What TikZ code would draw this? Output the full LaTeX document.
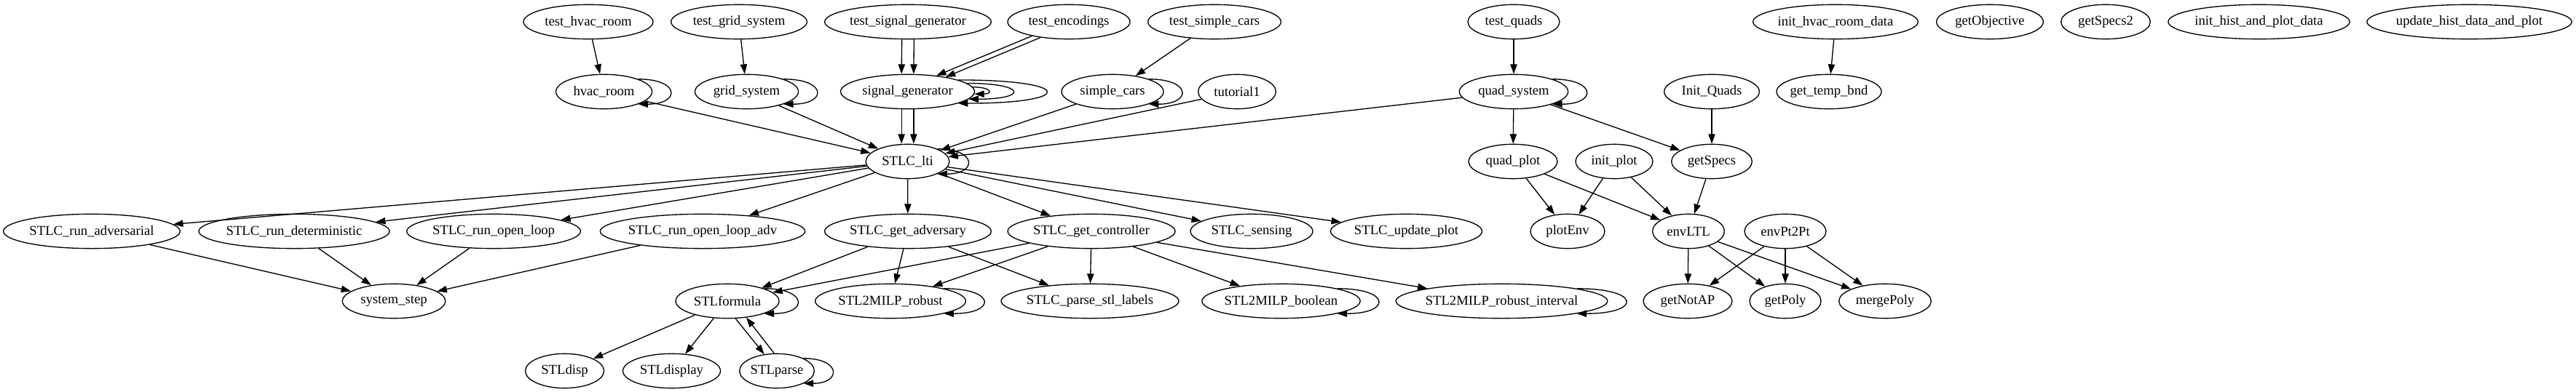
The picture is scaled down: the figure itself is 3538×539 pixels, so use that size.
\documentclass[tikz,border=0pt]{standalone}
\usepackage{fontspec}
\setmainfont{Liberation Serif}
\usetikzlibrary{arrows.meta,shapes.geometric}

\begin{document}
\begin{tikzpicture}[
 x=0.75pt,y=-0.75pt,
 func/.style={draw,ellipse,line width=1pt,inner xsep=-20pt,inner ysep=0pt,minimum height=35.5pt,font=\fontsize{14}{16}\selectfont},
 arrow/.style={-{Triangle[length=10pt,width=7pt]},line width=1pt},
 selfloop/.style={to path={.. controls +(#1,0) and +(#1,0) .. (\tikztotarget)}}]
\useasboundingbox (0,0) rectangle (3538,539);
\node[func,minimum width=133.5pt] (thr) at (808,30) {test\_hvac\_room};
\node[func,minimum width=140pt] (tgs) at (1015,30) {test\_grid\_system};
\node[func,minimum width=171.5pt] (tsg) at (1247,30) {test\_signal\_generator};
\node[func,minimum width=126pt] (tenc) at (1468,30) {test\_encodings};
\node[func,minimum width=137pt] (tsc) at (1668,30) {test\_simple\_cars};
\node[func,minimum width=94.5pt] (tq) at (2079,30) {test\_quads};
\node[func,minimum width=170pt] (ihrd) at (2521,30) {init\_hvac\_room\_data};
\node[func,minimum width=110pt] (gobj) at (2733,30) {getObjective};
\node[func,minimum width=92pt] (gs2) at (2892,30) {getSpecs2};
\node[func,minimum width=187pt] (ihpd) at (3102.5,30) {init\_hist\_and\_plot\_data};
\node[func,minimum width=211pt] (uhdp) at (3391.5,30) {update\_hist\_data\_and\_plot};
\node[func,minimum width=99pt] (hr) at (829.5,126) {hvac\_room};
\node[func,minimum width=106.5pt] (gsys) at (1025.5,126) {grid\_system};
\node[func,minimum width=138pt] (sg) at (1246.5,126) {signal\_generator};
\node[func,minimum width=105pt] (sc) at (1528,126) {simple\_cars};
\node[func,minimum width=80pt] (tut) at (1699,126) {tutorial1};
\node[func,minimum width=112pt] (qs) at (2079,126) {quad\_system};
\node[func,minimum width=98pt] (iq) at (2351,126) {Init\_Quads};
\node[func,minimum width=108pt] (gtb) at (2512,126) {get\_temp\_bnd};
\node[func,minimum width=86pt] (lti) at (1246.5,222) {STLC\_lti};
\node[func,minimum width=91.5pt] (qp) at (2078,222) {quad\_plot};
\node[func,minimum width=79.5pt] (ip) at (2217,222) {init\_plot};
\node[func,minimum width=83pt] (gsp) at (2351,222) {getSpecs};
\node[func,minimum width=182pt] (rad) at (126,318) {STLC\_run\_adversarial};
\node[func,minimum width=196.5pt] (rdet) at (404,318) {STLC\_run\_deterministic};
\node[func,minimum width=179pt] (rol) at (678,318) {STLC\_run\_open\_loop};
\node[func,minimum width=211pt] (rola) at (965,318) {STLC\_run\_open\_loop\_adv};
\node[func,minimum width=171.5pt] (gadv) at (1247,318) {STLC\_get\_adversary};
\node[func,minimum width=172.5pt] (gctl) at (1499,318) {STLC\_get\_controller};
\node[func,minimum width=126pt] (sens) at (1719,318) {STLC\_sensing};
\node[func,minimum width=156pt] (upd) at (1931.5,318) {STLC\_update\_plot};
\node[func,minimum width=76.5pt] (penv) at (2153,318) {plotEnv};
\node[func,minimum width=74pt] (eltl) at (2319,318) {envLTL};
\node[func,minimum width=84pt] (ep2p) at (2452,318) {envPt2Pt};
\node[func,minimum width=106pt] (sstep) at (541,414) {system\_step};
\node[func,minimum width=106.5pt] (stlf) at (999,414) {STLformula};
\node[func,minimum width=155pt] (mrob) at (1223,414) {STL2MILP\_robust};
\node[func,minimum width=183pt] (psl) at (1497,414) {STLC\_parse\_stl\_labels};
\node[func,minimum width=163pt] (mbool) at (1759.5,414) {STL2MILP\_boolean};
\node[func,minimum width=218pt] (mri) at (2062.5,414) {STL2MILP\_robust\_interval};
\node[func,minimum width=91.5pt] (gnap) at (2318,414) {getNotAP};
\node[func,minimum width=73.5pt] (gpoly) at (2452,414) {getPoly};
\node[func,minimum width=95pt] (mpoly) at (2589,414) {mergePoly};
\node[func,minimum width=81pt] (sdisp) at (775.5,510) {STLdisp};
\node[func,minimum width=100.5pt] (sdispl) at (922.5,510) {STLdisplay};
\node[func,minimum width=77pt] (sparse) at (1067,510) {STLparse};
\draw[arrow] (thr) -- (hr);
\draw[arrow] (tgs) -- (gsys);
\draw[arrow] ([xshift=-6.25pt]tsg.south) -- ([xshift=-6.25pt]sg.north);
\draw[arrow] ([xshift=6.25pt]tsg.south) -- ([xshift=6.25pt]sg.north);
\draw[arrow] (tenc.-159) -- (sg.29);
\draw[arrow] (tenc.-151) -- (sg.21);
\draw[arrow] (tsc) -- (sc);
\draw[arrow] (tq) -- (qs);
\draw[arrow] (ihrd) -- (gtb);
\draw[arrow] (hr.north east) to[selfloop=58] (hr.south east);
\draw[arrow] (gsys.north east) to[selfloop=60] (gsys.south east);
\draw[arrow] (sg.13) to[selfloop=161] (sg.-13);
\draw[arrow] (sg.8) to[selfloop=82] (sg.-7);
\draw[arrow] (sg.4) to[selfloop=26] (sg.-2);
\draw[arrow] (sc.north east) to[selfloop=59] (sc.south east);
\draw[arrow] (qs.north east) to[selfloop=61] (qs.south east);
\draw[arrow] (lti.north east) to[selfloop=55] (lti.south east);
\draw[arrow] (hr) -- (lti);
\draw[arrow] (gsys) -- (lti);
\draw[arrow] ([xshift=-6.25pt]sg.south) -- ([xshift=-6.25pt]lti.north);
\draw[arrow] ([xshift=6.25pt]sg.south) -- ([xshift=6.25pt]lti.north);
\draw[arrow] (sc) -- (lti);
\draw[arrow] (tut) -- (lti);
\draw[arrow] (qs) -- (lti);
\draw[arrow] (qs) -- (qp);
\draw[arrow] (qs) -- (gsp);
\draw[arrow] (iq) -- (gsp);
\draw[arrow] (lti) -- (rad);
\draw[arrow] (lti) -- (rdet);
\draw[arrow] (lti) -- (rol);
\draw[arrow] (lti) -- (rola);
\draw[arrow] (lti) -- (gadv);
\draw[arrow] (lti) -- (gctl);
\draw[arrow] (lti) -- (sens);
\draw[arrow] (lti) -- (upd);
\draw[arrow] (qp) -- (penv);
\draw[arrow] (qp) -- (eltl);
\draw[arrow] (ip) -- (penv);
\draw[arrow] (ip) -- (eltl);
\draw[arrow] (gsp) -- (eltl);
\draw[arrow] (rad) -- (sstep);
\draw[arrow] (rdet) -- (sstep);
\draw[arrow] (rol) -- (sstep);
\draw[arrow] (rola) -- (sstep);
\draw[arrow] (gadv) -- (stlf);
\draw[arrow] (gadv) -- (mrob);
\draw[arrow] (gadv) -- (psl);
\draw[arrow] (gctl) -- (stlf);
\draw[arrow] (gctl) -- (mrob);
\draw[arrow] (gctl) -- (psl);
\draw[arrow] (gctl) -- (mbool);
\draw[arrow] (gctl) -- (mri);
\draw[arrow] (eltl) -- (gnap);
\draw[arrow] (eltl) -- (gpoly);
\draw[arrow] (eltl) -- (mpoly);
\draw[arrow] (ep2p) -- (gnap);
\draw[arrow] (ep2p) -- (gpoly);
\draw[arrow] (ep2p) -- (mpoly);
\draw[arrow] (stlf.north east) to[selfloop=60] (stlf.south east);
\draw[arrow] (mrob.north east) to[selfloop=72] (mrob.south east);
\draw[arrow] (mbool.north east) to[selfloop=74] (mbool.south east);
\draw[arrow] (mri.north east) to[selfloop=89] (mri.south east);
\draw[arrow] (stlf) -- (sdisp);
\draw[arrow] (stlf) -- (sdispl);
\draw[arrow] (stlf.-65) -- (sparse.127);
\draw[arrow] (sparse.99) -- (stlf.-41);
\draw[arrow] (sparse.north east) to[selfloop=52] (sparse.south east);
\end{tikzpicture}
\end{document}
